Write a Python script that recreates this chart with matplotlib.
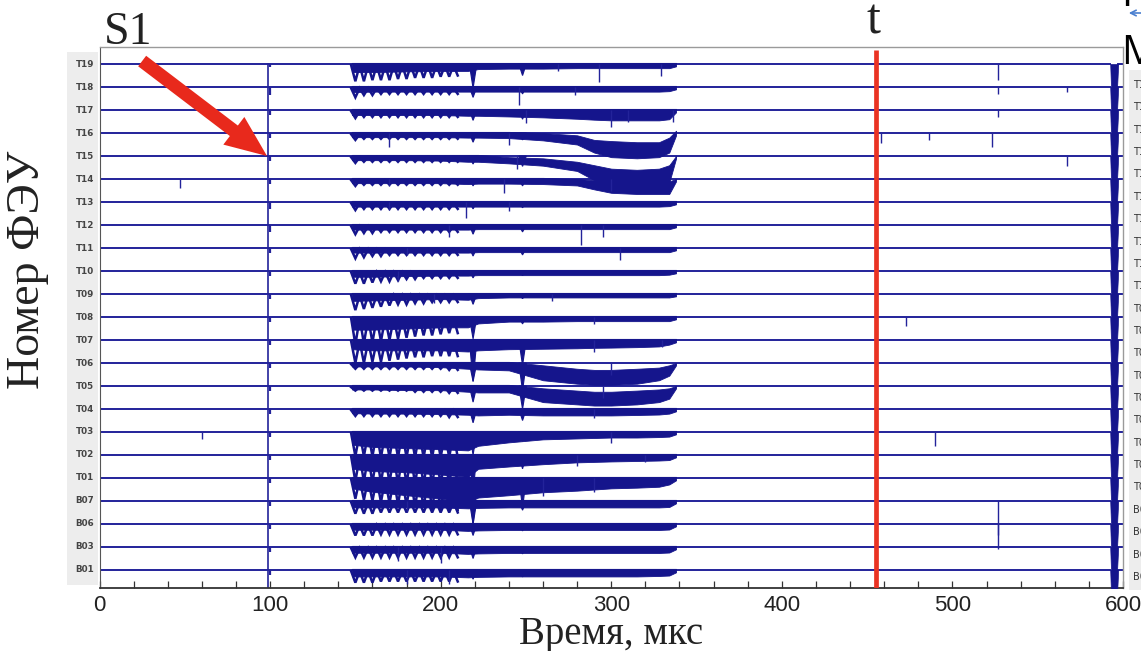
import numpy as np
import matplotlib
matplotlib.use("Agg")
import matplotlib.pyplot as plt
from matplotlib.patches import Rectangle

# ---------------------------------------------------------------- data
CHANNELS = ["T19", "T18", "T17", "T16", "T15", "T14", "T13", "T12", "T11", "T10",
            "T09", "T08", "T07", "T06", "T05", "T04", "T03", "T02", "T01",
            "B07", "B06", "B03", "B01"]

X_TICKS = [0, 100, 200, 300, 400, 500, 600]
S1_TIME = 99.0          # start of scintillation, mks
T_MARK = 455.0          # marked time t, mks
TRACE_END = 592.5       # last sample before the overload
OVERLOAD_T = [592.5, 593.2, 596.2, 597.2]
OVERLOAD_DEPTH = [0.0, 1.5, 1.5, 0.0]

# envelope of the dense band (electron-luminescence period), depth below baseline
BAND_T = [148, 160, 180, 200, 216, 222, 240, 260, 280, 290, 300, 315, 328, 334, 338]
BAND_BOTTOM = [
    [0.35, 0.35, 0.32, 0.30, 0.30, 0.22, 0.20, 0.20, 0.18, 0.18, 0.18, 0.18, 0.18, 0.18, 0.10],  # T19
    [0.22, 0.20, 0.20, 0.20, 0.20, 0.20, 0.20, 0.20, 0.20, 0.20, 0.20, 0.20, 0.20, 0.18, 0.10],  # T18
    [0.22, 0.22, 0.22, 0.22, 0.25, 0.25, 0.28, 0.32, 0.38, 0.42, 0.45, 0.45, 0.45, 0.40, 0.10],  # T17
    [0.18, 0.18, 0.18, 0.18, 0.20, 0.20, 0.22, 0.32, 0.50, 0.85, 1.05, 1.10, 1.05, 0.85, 0.10],  # T16
    [0.18, 0.18, 0.18, 0.20, 0.25, 0.25, 0.32, 0.42, 0.65, 1.05, 1.30, 1.40, 1.35, 1.15, 0.10],  # T15
    [0.18, 0.18, 0.18, 0.18, 0.22, 0.20, 0.20, 0.22, 0.28, 0.45, 0.60, 0.65, 0.65, 0.65, 0.10],  # T14
    [0.20, 0.20, 0.20, 0.20, 0.20, 0.20, 0.20, 0.20, 0.20, 0.20, 0.20, 0.20, 0.20, 0.18, 0.10],  # T13
    [0.20, 0.20, 0.20, 0.20, 0.20, 0.18, 0.18, 0.18, 0.18, 0.18, 0.18, 0.18, 0.18, 0.18, 0.10],  # T12
    [0.20, 0.20, 0.20, 0.20, 0.20, 0.18, 0.18, 0.18, 0.18, 0.18, 0.18, 0.18, 0.18, 0.18, 0.10],  # T11
    [0.25, 0.25, 0.22, 0.20, 0.20, 0.18, 0.18, 0.18, 0.18, 0.18, 0.18, 0.18, 0.18, 0.16, 0.10],  # T10
    [0.30, 0.28, 0.25, 0.22, 0.25, 0.18, 0.15, 0.15, 0.15, 0.15, 0.15, 0.15, 0.15, 0.15, 0.10],  # T09
    [0.55, 0.55, 0.50, 0.45, 0.45, 0.28, 0.20, 0.20, 0.18, 0.18, 0.18, 0.18, 0.18, 0.18, 0.10],  # T08
    [0.40, 0.45, 0.45, 0.45, 0.50, 0.45, 0.40, 0.38, 0.36, 0.34, 0.33, 0.31, 0.28, 0.20, 0.10],  # T07
    [0.15, 0.15, 0.15, 0.18, 0.25, 0.28, 0.32, 0.75, 0.90, 0.95, 0.95, 0.90, 0.75, 0.55, 0.10],  # T06
    [0.15, 0.15, 0.18, 0.18, 0.25, 0.28, 0.28, 0.70, 0.80, 0.85, 0.85, 0.80, 0.70, 0.55, 0.10],  # T05
    [0.18, 0.20, 0.20, 0.22, 0.25, 0.28, 0.25, 0.28, 0.28, 0.28, 0.28, 0.26, 0.24, 0.20, 0.10],  # T04
    [0.55, 0.65, 0.70, 0.75, 0.80, 0.60, 0.45, 0.32, 0.28, 0.26, 0.24, 0.24, 0.22, 0.20, 0.10],  # T03
    [0.60, 0.70, 0.75, 0.85, 0.95, 0.60, 0.50, 0.40, 0.32, 0.30, 0.28, 0.26, 0.24, 0.22, 0.10],  # T02
    [0.45, 0.60, 0.75, 0.90, 1.05, 0.85, 0.75, 0.62, 0.55, 0.50, 0.45, 0.42, 0.38, 0.28, 0.10],  # T01
    [0.28, 0.28, 0.28, 0.28, 0.32, 0.30, 0.28, 0.28, 0.28, 0.28, 0.28, 0.28, 0.28, 0.26, 0.10],  # B07
    [0.25, 0.25, 0.25, 0.25, 0.30, 0.28, 0.26, 0.26, 0.26, 0.26, 0.26, 0.26, 0.26, 0.24, 0.10],  # B06
    [0.25, 0.25, 0.25, 0.25, 0.30, 0.28, 0.26, 0.26, 0.26, 0.26, 0.26, 0.26, 0.26, 0.24, 0.10],  # B03
    [0.28, 0.28, 0.28, 0.28, 0.32, 0.30, 0.28, 0.28, 0.28, 0.28, 0.28, 0.28, 0.26, 0.24, 0.10],  # B01
]
# upper edge of the band (positive = below baseline)
BAND_TOP = [
    [-0.05] * 15,
    [-0.05] * 15,
    [-0.05] * 15,
    [-0.05, -0.05, -0.05, -0.05, -0.05, -0.05, -0.05, 0.00, 0.10, 0.30, 0.35, 0.40, 0.40, 0.20, -0.10],  # T16
    [-0.05, -0.05, -0.05, -0.05, -0.05, -0.05, 0.05, 0.10, 0.25, 0.40, 0.55, 0.60, 0.55, 0.40, 0.00],    # T15
    [-0.05, -0.05, -0.05, -0.05, -0.05, -0.05, -0.05, -0.05, 0.00, 0.05, 0.10, 0.15, 0.15, 0.10, 0.00],  # T14
    [-0.05] * 15,
    [-0.05] * 15,
    [-0.05] * 15,
    [-0.05] * 15,
    [-0.05] * 15,
    [-0.05] * 15,
    [-0.05] * 15,
    [-0.05, -0.05, -0.05, -0.05, -0.05, -0.05, -0.05, 0.10, 0.25, 0.30, 0.30, 0.25, 0.20, 0.10, 0.00],  # T06
    [-0.05, -0.05, -0.05, -0.05, -0.05, -0.05, -0.05, 0.10, 0.20, 0.25, 0.25, 0.20, 0.15, 0.10, 0.00],  # T05
    [-0.05] * 15,
    [-0.05] * 15,
    [-0.05] * 15,
    [-0.05] * 15,
    [-0.05] * 15,
    [-0.05] * 15,
    [-0.05] * 15,
    [-0.05] * 15,
]

# oscillating light pulses at the start of the band
COMB_TIMES = [150, 155, 160, 165, 170, 175, 180, 185, 190, 195, 200, 205, 210]
COMB_DEPTH = [
    [0.75, 0.75, 0.70, 0.70, 0.70, 0.65, 0.65, 0.60, 0.60, 0.60, 0.55, 0.55, 0.50],  # T19
    [0.45, 0.35, 0.35, 0.30, 0.30, 0.30, 0.30, 0.30, 0.30, 0.30, 0.30, 0.30, 0.30],  # T18
    [0.35, 0.30, 0.30, 0.30, 0.30, 0.30, 0.30, 0.30, 0.30, 0.30, 0.30, 0.30, 0.30],  # T17
    [0.30, 0.25, 0.25, 0.25, 0.25, 0.25, 0.25, 0.25, 0.25, 0.25, 0.25, 0.25, 0.25],  # T16
    [0.30, 0.25, 0.25, 0.25, 0.25, 0.25, 0.25, 0.25, 0.25, 0.25, 0.25, 0.25, 0.25],  # T15
    [0.30, 0.25, 0.25, 0.25, 0.25, 0.25, 0.25, 0.25, 0.25, 0.25, 0.25, 0.25, 0.25],  # T14
    [0.35, 0.30, 0.30, 0.30, 0.30, 0.30, 0.30, 0.30, 0.30, 0.30, 0.30, 0.30, 0.30],  # T13
    [0.40, 0.35, 0.35, 0.30, 0.30, 0.30, 0.30, 0.30, 0.30, 0.30, 0.30, 0.30, 0.30],  # T12
    [0.45, 0.40, 0.35, 0.35, 0.30, 0.30, 0.30, 0.30, 0.30, 0.30, 0.30, 0.30, 0.30],  # T11
    [0.55, 0.55, 0.50, 0.45, 0.45, 0.40, 0.35, 0.35, 0.30, 0.30, 0.30, 0.30, 0.30],  # T10
    [0.70, 0.65, 0.60, 0.55, 0.50, 0.45, 0.45, 0.40, 0.40, 0.35, 0.35, 0.35, 0.35],  # T09
    [1.20, 1.15, 1.10, 1.05, 1.00, 0.95, 0.90, 0.85, 0.80, 0.80, 0.75, 0.70, 0.70],  # T08
    [1.00, 1.00, 0.95, 0.95, 0.90, 0.85, 0.80, 0.75, 0.75, 0.70, 0.70, 0.70, 0.70],  # T07
    [0.25, 0.25, 0.25, 0.25, 0.25, 0.25, 0.25, 0.25, 0.25, 0.25, 0.25, 0.30, 0.30],  # T06
    [0.20, 0.20, 0.20, 0.20, 0.20, 0.20, 0.20, 0.25, 0.25, 0.25, 0.25, 0.30, 0.30],  # T05
    [0.30, 0.30, 0.30, 0.30, 0.30, 0.30, 0.30, 0.30, 0.30, 0.30, 0.30, 0.35, 0.35],  # T04
    [1.05, 1.05, 1.05, 1.10, 1.10, 1.10, 1.10, 1.10, 1.10, 1.10, 1.10, 1.10, 1.10],  # T03
    [1.15, 1.15, 1.20, 1.20, 1.20, 1.25, 1.25, 1.25, 1.30, 1.30, 1.30, 1.30, 1.30],  # T02
    [0.90, 0.95, 1.00, 1.05, 1.10, 1.15, 1.20, 1.25, 1.30, 1.35, 1.40, 1.40, 1.40],  # T01
    [0.55, 0.55, 0.55, 0.50, 0.50, 0.50, 0.50, 0.50, 0.50, 0.50, 0.50, 0.50, 0.50],  # B07
    [0.50, 0.50, 0.50, 0.45, 0.45, 0.45, 0.45, 0.45, 0.45, 0.45, 0.45, 0.45, 0.45],  # B06
    [0.45, 0.45, 0.45, 0.45, 0.45, 0.45, 0.45, 0.45, 0.45, 0.45, 0.45, 0.45, 0.45],  # B03
    [0.55, 0.55, 0.55, 0.50, 0.50, 0.50, 0.50, 0.50, 0.50, 0.50, 0.50, 0.50, 0.50],  # B01
]

# common wide dips of all channels
DIP_TIMES = [219.0, 248.0]
DIP_219 = [1.05, 0.45, 0.45, 0.40, 0.35, 0.30, 0.30, 0.40, 0.35, 0.30, 0.45, 0.95, 1.80,
           0.80, 0.70, 0.60, 1.00, 1.60, 2.10, 1.00, 0.50, 0.50, 0.40]
DIP_248 = [0.50, 0.30, 0.40, 0.30, 0.45, 0.30, 0.25, 0.30, 0.30, 0.20, 0.20, 0.30, 1.10,
           1.20, 1.00, 0.50, 0.40, 0.60, 1.30, 0.40, 0.30, 0.30, 0.30]
S1_DIP = [0.15, 0.35, 0.20, 0.20, 0.20, 0.20, 0.30, 0.30, 0.20, 0.20, 0.20, 0.20, 0.20,
          0.20, 0.20, 0.20, 0.20, 0.20, 0.20, 0.20, 0.20, 0.20, 0.20]

# single-photon spikes: (time, depth)
SPIKES = [
    [(269, 0.30), (293, 0.80), (329, 0.50), (527, 0.70)],                    # T19
    [(246, 0.80), (279, 0.35), (527, 0.30), (567, 0.20)],                    # T18
    [(250, 0.55), (300, 0.75), (310, 0.50), (336, 0.50), (527, 0.30)],       # T17
    [(170, 0.60), (240, 0.50), (458, 0.45), (486, 0.30), (523, 0.60)],       # T16
    [(245, 0.55), (567, 0.45)],                                              # T15
    [(47, 0.40), (170, 0.30), (237, 0.60), (300, 0.50)],                     # T14
    [(215, 0.70), (170, 0.35), (240, 0.40)],                                 # T13
    [(282, 0.85), (205, 0.50), (295, 0.50)],                                 # T12
    [(305, 0.50), (180, 0.30)],                                              # T11
    [(175, 0.45)],                                                           # T10
    [(196, 0.40), (265, 0.30)],                                              # T09
    [(290, 0.30), (473, 0.40)],                                              # T08
    [(290, 0.50), (330, 0.30)],                                              # T07
    [(300, 0.50)],                                                           # T06
    [(295, 0.50)],                                                           # T05
    [(290, 0.40)],                                                           # T04
    [(60, 0.30), (300, 0.50), (490, 0.60)],                                  # T03
    [(280, 0.50), (320, 0.30)],                                              # T02
    [(260, 0.80), (290, 0.60)],                                              # T01
    [(180, 0.50), (527, 2.10)],                                              # B07
    [(527, 0.50)],                                                           # B06
    [(175, 0.60), (200, 0.70)],                                              # B03
    [(180, 0.60), (205, 0.60)],                                              # B01
]

# ---------------------------------------------------------------- figure
W, H = 1141, 651
fig = plt.figure(figsize=(W / 100, H / 100), dpi=100)
fig.patch.set_facecolor("white")

ax_left, ax_right, ax_top, ax_bot = 99.5, 1123.0, 47.0, 588.0
ax = fig.add_axes([ax_left / W, 1 - ax_bot / H, (ax_right - ax_left) / W, (ax_bot - ax_top) / H])

n = len(CHANNELS)
ax.set_xlim(0, 600)
ax.set_ylim(-0.783, n - 1 + 0.74)

TRACE = "#15158c"
LINE = "#23239a"

for k, name in enumerate(CHANNELS):
    y0 = n - 1 - k
    # quiet baseline before and after the band
    ax.plot([0, TRACE_END], [y0, y0], color=LINE, lw=1.4, zorder=2)
    ax.plot([OVERLOAD_T[-1], 600], [y0, y0], color=LINE, lw=1.4, zorder=2)
    # dense band
    top = [y0 - v for v in BAND_TOP[k]]
    bot = [y0 - v for v in BAND_BOTTOM[k]]
    ax.fill_between(BAND_T, top, bot, color=TRACE, lw=0.6, edgecolor=TRACE, zorder=3)
    # comb of oscillating pulses drawn as a zigzag
    zx, zy = [], []
    for t, d in zip(COMB_TIMES, COMB_DEPTH[k]):
        zx += [t - 2.5, t]
        zy += [y0 - 0.05, y0 - d]
    ax.plot(zx, zy, color=TRACE, lw=1.8, solid_joinstyle="miter", zorder=3)
    # common dips
    for t, d in zip(DIP_TIMES, (DIP_219[k], DIP_248[k])):
        ax.fill([t - 2.2, t, t + 2.2], [y0, y0 - d, y0], color=TRACE, lw=0.8, zorder=3)
    ax.vlines(S1_TIME + 1.0, y0 - S1_DIP[k], y0, color=LINE, lw=1.6, zorder=3)
    # thin spikes
    for t, d in SPIKES[k]:
        ax.vlines(t, y0 - d, y0, color=LINE, lw=1.0, zorder=3)
    # overload at the end of the record
    ax.fill_between(OVERLOAD_T, [y0] * 4, [y0 - d for d in OVERLOAD_DEPTH],
                    color=TRACE, lw=0.5, zorder=3)

# S1 trigger line
ax.vlines(S1_TIME, -0.783, n - 1 + 0.05, color=LINE, lw=1.2, zorder=2)
# marked time t
ax.vlines(T_MARK, -0.783, n - 1 + 0.6, color="#ea3323", lw=3.4, zorder=5)

# axes styling
for side in ("top", "right"):
    ax.spines[side].set_color("#9a9a9a")
    ax.spines[side].set_linewidth(1.0)
ax.spines["left"].set_color("#555555")
ax.spines["bottom"].set_color("#333333")
ax.spines["bottom"].set_linewidth(1.3)
ax.set_yticks([])
ax.set_xticks(X_TICKS)
ax.set_xticks(np.arange(0, 601, 20), minor=True)
ax.tick_params(axis="x", which="both", direction="in", length=5, width=0.9, color="#333333",
               pad=5, labelsize=16)
for lab in ax.get_xticklabels():
    lab.set_family(["Liberation Sans Narrow", "Liberation Sans", "DejaVu Sans"])
    lab.set_color("#222222")

# channel labels column
fig.patches.append(Rectangle((67 / W, 1 - 585 / H), 31 / W, 533 / H, transform=fig.transFigure,
                             facecolor="#ededed", edgecolor="none", zorder=-1))
for k, name in enumerate(CHANNELS):
    ax.text(-0.0145, n - 1 - k, name, transform=ax.get_yaxis_transform(), ha="center",
            va="center", fontsize=6.3, fontweight="bold", color="#444444", clip_on=False,
            zorder=10)

# neighbouring panel at the right edge
fig.patches.append(Rectangle((1129 / W, 1 - 590 / H), 20 / W, 520 / H, transform=fig.transFigure,
                             facecolor="#ededed", edgecolor="none", zorder=-1))
for k, name in enumerate(CHANNELS):
    fig.text(1133 / W, 1 - (85 + k * 22.36) / H, name, ha="left", va="center",
             fontsize=7, color="#333333")

# titles and annotations
ax.set_xlabel("Время, мкс", fontsize=28, family=["Liberation Serif", "DejaVu Serif"],
              labelpad=0, color="#222222")
fig.text(28 / W, 1 - 270 / H, "Номер ФЭУ", rotation=90, ha="center", va="center",
         fontsize=33, family=["Liberation Serif", "DejaVu Serif"], color="#222222")
fig.text(104 / W, 1 - 44 / H, "S1", ha="left", va="baseline", fontsize=33,
         family=["Liberation Serif", "DejaVu Serif"], color="#222222")
fig.text(873 / W, 1 - 33 / H, "t", ha="center", va="baseline", fontsize=36,
         family=["Liberation Serif", "DejaVu Serif"], color="#222222")
fig.text(1121 / W, 1 - 64 / H, "M", ha="left", va="baseline", fontsize=29,
         family=["Open Sans", "DejaVu Sans"], color="black")
fig.text(1121 / W, 1 - 6 / H, "Н", ha="left", va="baseline", fontsize=29,
         family=["Open Sans", "DejaVu Sans"], color="black")
ax.annotate("", xy=(1126, H - 13), xycoords="figure pixels", xytext=(1150, H - 13),
            textcoords="figure pixels",
            arrowprops=dict(arrowstyle="->", color="#4a7fd0", lw=1.2))

# arrow pointing to S1
ax.annotate("", xy=(S1_TIME - 0.8, n - 1 - CHANNELS.index("T15")), xytext=(25.0, 22.13),
            arrowprops=dict(width=9.5, headwidth=25, headlength=30, color="#e8291c",
                            shrink=0.0, lw=0), zorder=6)

fig.savefig("out.png", dpi=100)
